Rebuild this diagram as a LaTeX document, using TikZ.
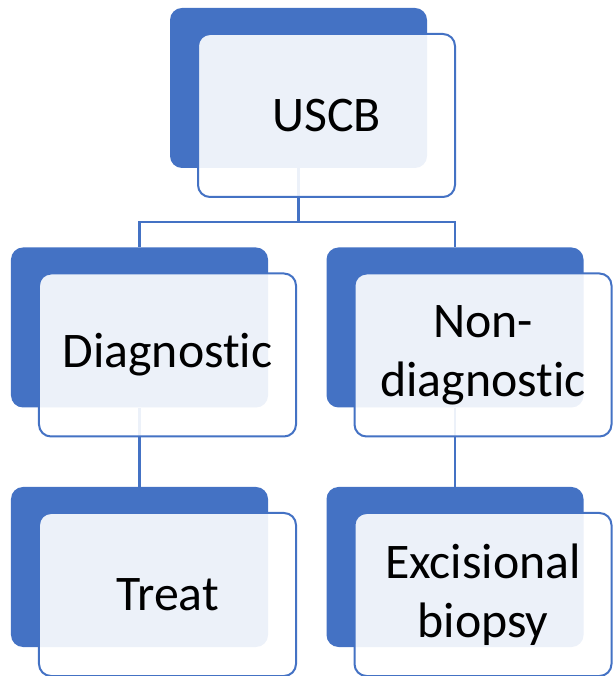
\documentclass[tikz,border=0pt]{standalone}
\usepackage{fontspec}
\setmainfont{Carlito}[Ligatures=NoCommon]
\usetikzlibrary{calc}
\definecolor{accent}{HTML}{4472C4}
\begin{document}
\begin{tikzpicture}[x=1bp,y=1bp,
  backbox/.style={fill=accent, draw=none, rounded corners=12bp, minimum width=257bp, minimum height=160bp, inner sep=0pt},
  frontbox/.style={fill=white, fill opacity=0.9, text opacity=1, draw=accent, draw opacity=1, line width=2bp, rounded corners=12bp, minimum width=257bp, minimum height=163bp, inner sep=0pt, font=\fontsize{50}{59}\selectfont, align=center},
  link/.style={draw=accent, line width=2.6bp}]
\useasboundingbox (0,0) rectangle (614,676);
% back boxes
\node[backbox] (bTop) at (298.5,588) {};
\node[backbox] (bL) at (139.5,348.5) {};
\node[backbox] (bR) at (455,348.5) {};
\node[backbox] (bLL) at (139.5,109) {};
\node[backbox] (bRR) at (455,109) {};
% connectors
\draw[link] (bTop.south) -- ++(0,-54) coordinate (j) -| (bL.north);
\draw[link] (j) -| (bR.north);
\draw[link] (bL.south) -- (bLL.north);
\draw[link] (bR.south) -- (bRR.north);
% front boxes
\node[frontbox] (fTop) at ($(bTop)+(28,-27.5)$) {USCB};
\node[frontbox] (fL) at ($(bL)+(28,-27.5)$) {Diagnostic};
\node[frontbox] (fR) at ($(bR)+(28,-27.5)$) {Non-\\diagnostic};
\node[frontbox] (fLL) at ($(bLL)+(28,-27.5)$) {Treat};
\node[frontbox] (fRR) at ($(bRR)+(28,-27.5)$) {Excisional\\biopsy};
\end{tikzpicture}
\end{document}
